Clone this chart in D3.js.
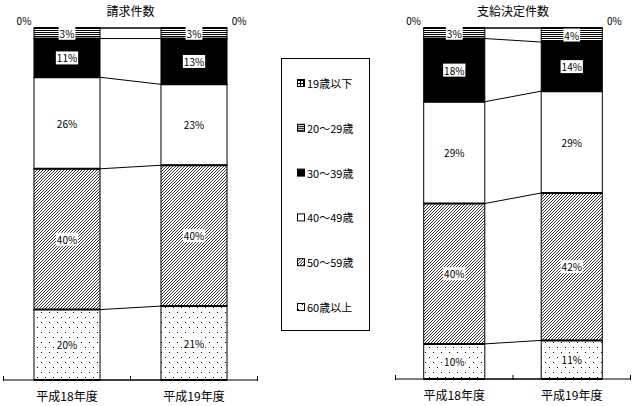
<!DOCTYPE html>
<html>
<head>
<meta charset="utf-8">
<script src="https://cdn.jsdelivr.net/npm/d3@7"></script>
<style>
  body { margin: 0; background: #fff; }
  text { font-family: "Noto Sans CJK JP", "Noto Sans", sans-serif; fill: #000; }
</style>
</head>
<body>
<div id="chart"></div>
<script>
// age groups, top of the stack first
var ageGroups = ["19歳以下", "20～29歳", "30～39歳", "40～49歳", "50～59歳", "60歳以上"];
var years = ["平成18年度", "平成19年度"];

// 請求件数 (%)
var claims18 = [0, 3, 11, 26, 40, 20];
var claims19 = [0, 3, 13, 23, 40, 21];
// 支給決定件数 (%)
var decided18 = [0, 3, 18, 29, 40, 10];
var decided19 = [0, 4, 14, 29, 42, 11];

var fills = ["url(#pGrid)", "url(#pHline)", "#000", "#fff", "url(#pDiag)", "url(#pDots)"];

var W = 634, H = 406;
var svg = d3.select("#chart").append("svg")
    .attr("width", W)
    .attr("height", H);

// ---- patterns
var defs = svg.append("defs");

var pg = defs.append("pattern").attr("id", "pGrid").attr("patternUnits", "userSpaceOnUse")
    .attr("width", 3).attr("height", 3);
pg.append("rect").attr("width", 3).attr("height", 3).attr("fill", "#fff");
pg.append("path").attr("d", "M0,0.5H3M0.5,0V3").attr("stroke", "#000").attr("stroke-width", 1);

var ph = defs.append("pattern").attr("id", "pHline").attr("patternUnits", "userSpaceOnUse")
    .attr("width", 4).attr("height", 2);
ph.append("rect").attr("width", 4).attr("height", 2).attr("fill", "#fff");
ph.append("rect").attr("width", 4).attr("height", 1).attr("fill", "#000");

var pd = defs.append("pattern").attr("id", "pDiag").attr("patternUnits", "userSpaceOnUse")
    .attr("width", 3).attr("height", 3);
pd.append("rect").attr("width", 3).attr("height", 3).attr("fill", "#fff");
pd.append("path").attr("d", "M-1,1L1,-1M0,3L3,0M2,4L4,2")
    .attr("stroke", "#000").attr("stroke-width", 0.8);

var pt = defs.append("pattern").attr("id", "pDots").attr("patternUnits", "userSpaceOnUse")
    .attr("width", 8).attr("height", 10);
pt.append("rect").attr("width", 8).attr("height", 10).attr("fill", "#fff");
pt.append("rect").attr("x", 1).attr("y", 2).attr("width", 1).attr("height", 1).attr("fill", "#000");
pt.append("rect").attr("x", 5).attr("y", 7).attr("width", 1).attr("height", 1).attr("fill", "#000");

// ---- one stacked chart
function drawChart(title, rows, x0, x1, top, bottom) {
    var g = svg.append("g");

    var table = years.map(function(y, i) {
        var o = { year: y };
        ageGroups.forEach(function(a, j) { o[a] = rows[i][j]; });
        return o;
    });
    var series = d3.stack().keys(ageGroups)(table);

    var x = d3.scaleBand().domain(years).range([x0, x1])
        .paddingInner(0.48).paddingOuter(0.24);
    var y = d3.scaleLinear().domain([0, 100]).range([top, bottom]);

    g.append("text")
        .attr("x", (x0 + x1) / 2).attr("y", 16)
        .attr("text-anchor", "middle")
        .style("font-size", "12px")
        .text(title);

    // series lines between the bars
    var lineBounds = [];
    series.forEach(function(s) { lineBounds.push(s.map(function(d) { return d[1]; })); });
    lineBounds.unshift([0, 0]);
    g.selectAll(".sline").data(lineBounds).enter().append("line")
        .attr("x1", x(years[0]) + x.bandwidth())
        .attr("x2", x(years[1]))
        .attr("y1", function(d) { return y(d[0]); })
        .attr("y2", function(d) { return y(d[1]); })
        .attr("stroke", "#000").attr("stroke-width", 1);

    // segments
    series.forEach(function(s, si) {
        g.selectAll(".seg" + si).data(s).enter().append("rect")
            .attr("x", function(d) { return x(d.data.year); })
            .attr("y", function(d) { return y(d[0]); })
            .attr("width", x.bandwidth())
            .attr("height", function(d) { return y(d[1]) - y(d[0]); })
            .attr("fill", fills[si])
            .attr("stroke", "#000").attr("stroke-width", 1);
    });

    // thicker boundaries between segments
    series.forEach(function(s) {
        g.selectAll(null).data(s).enter().append("line")
            .attr("x1", function(d) { return x(d.data.year); })
            .attr("x2", function(d) { return x(d.data.year) + x.bandwidth(); })
            .attr("y1", function(d) { return y(d[1]); })
            .attr("y2", function(d) { return y(d[1]); })
            .attr("stroke", "#000").attr("stroke-width", 2);
    });
    g.selectAll(null).data(years).enter().append("line")
        .attr("x1", function(d) { return x(d); })
        .attr("x2", function(d) { return x(d) + x.bandwidth(); })
        .attr("y1", y(0)).attr("y2", y(0))
        .attr("stroke", "#000").attr("stroke-width", 2);

    // value labels
    series.forEach(function(s, si) {
        s.forEach(function(d, di) {
            var v = d[1] - d[0];
            var cx, cy;
            if (v === 0) {
                if (di === 0) { cx = x(d.data.year) - 10; }
                else { cx = x(d.data.year) + x.bandwidth() + 12; }
                cy = y(d[0]) - 8;
            } else {
                cx = x(d.data.year) + x.bandwidth() / 2;
                cy = (y(d[0]) + y(d[1])) / 2;
            }
            var lg = g.append("g");
            var t = lg.append("text")
                .attr("x", cx).attr("y", cy)
                .attr("text-anchor", "middle")
                .attr("dominant-baseline", "central")
                .style("font-size", "10px")
                .text(v + "%");
            if (v > 0) {
                var bb = t.node().getBBox();
                lg.insert("rect", "text")
                    .attr("x", bb.x - 1).attr("y", bb.y + 1)
                    .attr("width", bb.width + 2).attr("height", bb.height - 2)
                    .attr("fill", "#fff");
            }
        });
    });

    // category axis
    var ax = g.append("g")
        .attr("transform", "translate(0," + bottom + ")")
        .call(d3.axisBottom(x).tickSize(0).tickPadding(12));
    ax.select(".domain").remove();
    ax.selectAll("text")
        .style("font-size", "12px")
        .style("font-family", "'Noto Sans CJK JP', sans-serif");

    g.append("line")
        .attr("x1", x0).attr("x2", x1)
        .attr("y1", bottom).attr("y2", bottom)
        .attr("stroke", "#000").attr("stroke-width", 1);
    var tickPos = [x0, (x0 + x1) / 2, x1];
    g.selectAll(null).data(tickPos).enter().append("line")
        .attr("x1", function(d) { return d; }).attr("x2", function(d) { return d; })
        .attr("y1", bottom - 4).attr("y2", bottom + 1)
        .attr("stroke", "#000").attr("stroke-width", 1);
}

drawChart("請求件数", [claims18, claims19], 3.5, 257.5, 28, 380);
drawChart("支給決定件数", [decided18, decided19], 395.5, 630.5, 28, 379);

// ---- legend
var lg = svg.append("g");
lg.append("rect")
    .attr("x", 281.5).attr("y", 58.5).attr("width", 88).attr("height", 272)
    .attr("fill", "#fff").attr("stroke", "#000").attr("stroke-width", 1);

var ly = d3.scalePoint().domain(ageGroups).range([83, 307]);
var items = lg.selectAll(".item").data(ageGroups).enter().append("g")
    .attr("transform", function(d) { return "translate(297," + ly(d) + ")"; });
items.append("rect")
    .attr("x", 0.5).attr("y", -3.5).attr("width", 7).attr("height", 7)
    .attr("fill", function(d, i) { return fills[i]; })
    .attr("stroke", "#000").attr("stroke-width", 1);
items.append("text")
    .attr("x", 10).attr("y", 0)
    .attr("dominant-baseline", "central")
    .style("font-size", "11px")
    .text(function(d) { return d; });
</script>
</body>
</html>
